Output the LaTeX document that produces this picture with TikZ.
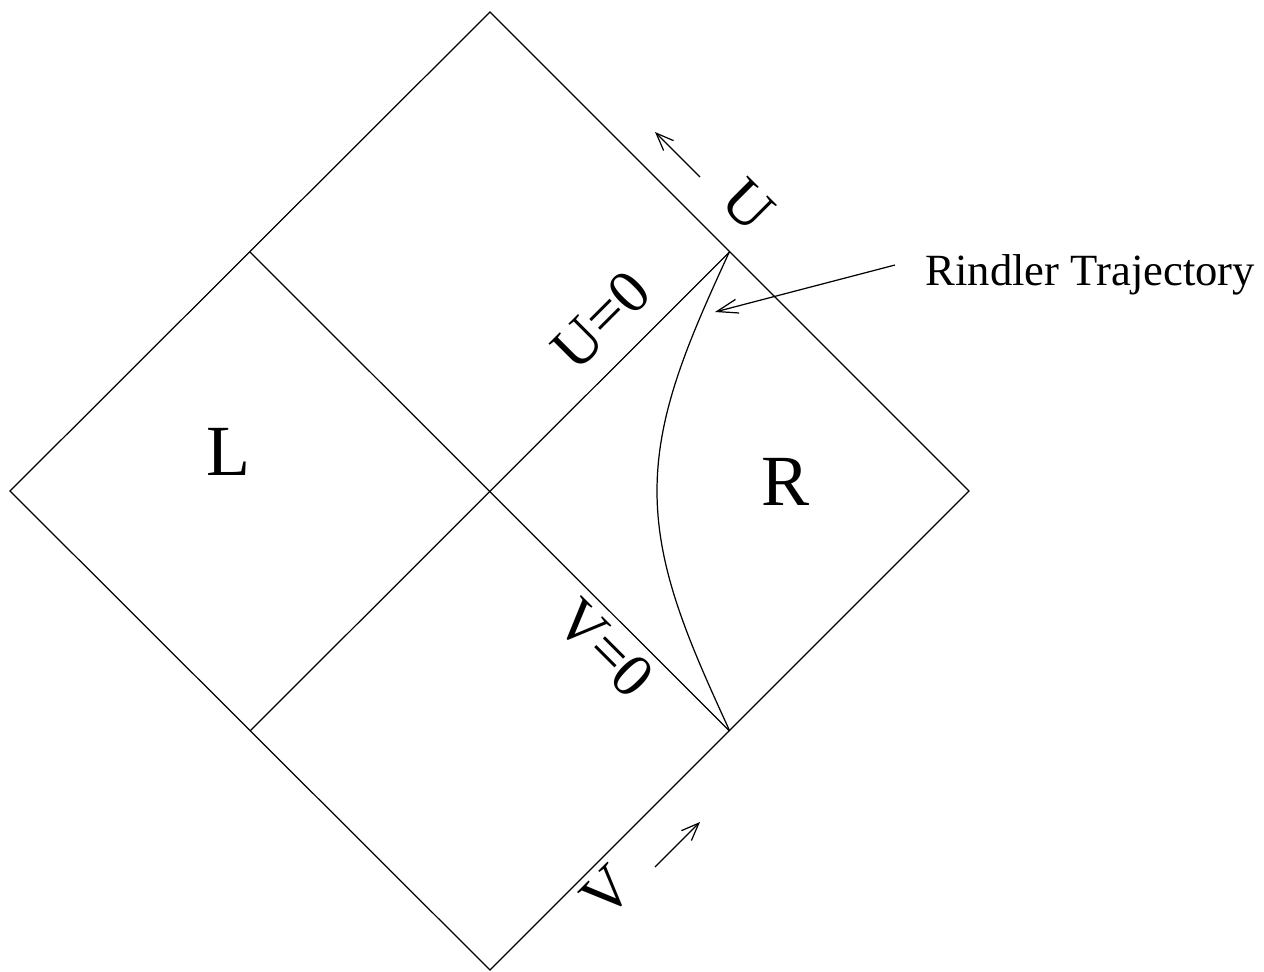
\documentclass[tikz,border=0pt]{standalone}
\usepackage{fontspec}
\setmainfont{Liberation Serif}
\usetikzlibrary{arrows.meta}
\begin{document}
\begin{tikzpicture}[x=0.02cm,y=-0.02cm,line width=0.7pt,
  bigtxt/.style={inner sep=0pt,font=\fontsize{41}{48}\selectfont},
  lbltxt/.style={inner sep=0pt,font=\fontsize{35}{42}\selectfont},
  smalltxt/.style={inner sep=0pt,font=\fontsize{25.4}{32}\selectfont},
  barb/.style={-{Straight Barb[length=10pt,width=8pt,line width=0.7pt]}},
  barbbig/.style={-{Straight Barb[length=12pt,width=8pt,line width=0.7pt]}}]
\useasboundingbox (0,0) rectangle (1264,971);
\coordinate (T) at (490,12);
\coordinate (Lc) at (10,491);
\coordinate (B) at (490,970);
\coordinate (Rc) at (969,491);
\coordinate (UL) at (250,252);
\coordinate (LL) at (250,731);
\coordinate (UR) at (729.5,252);
\coordinate (LR) at (729.5,731);
\draw (T) -- (Rc) -- (B) -- (Lc) -- cycle;
\draw (UL) -- (LR);
\draw (LL) -- (UR);
\draw (LR) -- plot[domain=0.3:89.7,samples=240,variable=\p]
  ({490 + 2.6611*(\p + atan(0.372*cos(\p)/sin(\p)))},
   {491 - 2.6611*(\p - atan(0.372*cos(\p)/sin(\p)))}) -- (UR);
\node[bigtxt] (Llab) at (228,452) {L};
\node[bigtxt] (Rlab) at (786,482) {R};
\node[lbltxt,rotate=-45] (Ulab) at (748,205) {U};
\node[lbltxt,rotate=45] (U0) at (601,320) {U=0};
\node[lbltxt,rotate=-45] (V0) at (605,648) {V=0};
\node[lbltxt,rotate=45] (Vlab) at (607,892) {V};
\node[smalltxt,anchor=base west] (rind) at (925,285) {Rindler Trajectory};
\coordinate (ua) at (700,177);
\coordinate (ub) at (655,132);
\coordinate (va) at (655,867);
\coordinate (vb) at (700,822);
\coordinate (ra) at (895,265);
\coordinate (rb) at (715,312);
\draw[barb] (ua) -- (ub);
\draw[barb] (va) -- (vb);
\draw[barbbig] (ra) -- (rb);
\end{tikzpicture}
\end{document}
